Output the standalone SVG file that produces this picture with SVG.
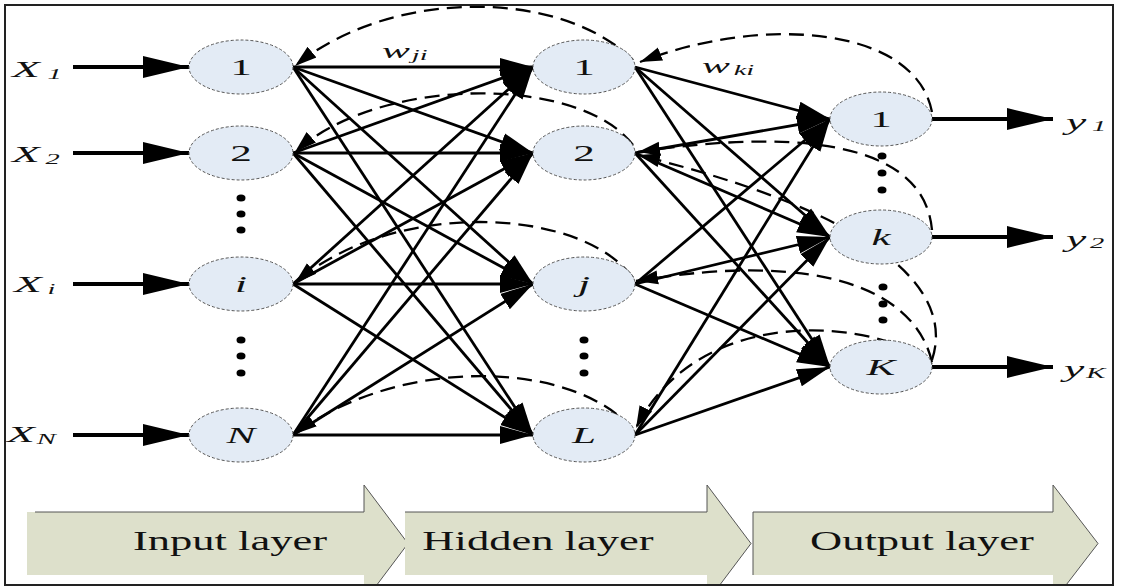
<svg xmlns="http://www.w3.org/2000/svg" width="1121" height="588" viewBox="0 0 1121 588">
<style>
.node{fill:#e3ebf5;stroke:#555;stroke-width:1;stroke-dasharray:3 2}
.lbl{font-family:"Liberation Serif","Times New Roman",serif;font-size:24px;fill:#111}
.it{font-style:italic}
.conn{stroke:#000;stroke-width:2.8;fill:none;marker-end:url(#ah)}
.io{stroke:#000;stroke-width:4;fill:none;marker-end:url(#ahBig)}
.dash{stroke:#000;stroke-width:2.3;fill:none;stroke-dasharray:15 8;marker-end:url(#ahD)}
.band{fill:#dde0cb}
.bandline{fill:none;stroke:#555;stroke-width:1}
.ltxt{font-family:"Liberation Serif","Times New Roman",serif;font-size:27px;fill:#111}
</style>
<defs>
<marker id="ah" markerUnits="userSpaceOnUse" markerWidth="34" markerHeight="20" refX="33" refY="10" orient="auto"><path d="M0,1 L33,10 L0,19 z" fill="#000"/></marker>
<marker id="ahBig" markerUnits="userSpaceOnUse" markerWidth="48" markerHeight="24" refX="46" refY="12" orient="auto"><path d="M0,1 L46,12 L0,23 z" fill="#000"/></marker>
<marker id="ahD" markerUnits="userSpaceOnUse" markerWidth="24" markerHeight="16" refX="22" refY="8" orient="auto"><path d="M0,1 L22,8 L0,15 z" fill="#000"/></marker>
<clipPath id="frameClip"><rect x="6" y="6" width="1106" height="578"/></clipPath>
</defs>
<rect x="0" y="0" width="1121" height="588" fill="#fff"/>

<g id="layer-bands" clip-path="url(#frameClip)">
  <g id="band-input">
    <polygon class="band" points="27,512 364,512 364,485 408,543.5 364,602 364,575 27,575"/>
    <polyline class="bandline" points="35,512 364,512 364,485 408,543.5 364,602"/>
  </g>
  <g id="band-hidden">
    <polygon class="band" points="405,512 707,512 707,485 751,543.5 707,602 707,575 405,575"/>
    <polyline class="bandline" points="405,512 707,512 707,485 751,543.5 707,602"/>
  </g>
  <g id="band-output">
    <polygon class="band" points="753,512 1053,512 1053,485 1098,543.5 1053,602 1053,575 753,575"/>
    <polyline class="bandline" points="753,575 753,512 1053,512 1053,485 1098,543.5 1053,602"/>
  </g>
  <text class="ltxt" text-anchor="middle" transform="translate(230,550) scale(1.65,1)">Input layer</text>
  <text class="ltxt" text-anchor="middle" transform="translate(538,550) scale(1.65,1)">Hidden layer</text>
  <text class="ltxt" text-anchor="middle" transform="translate(922,550) scale(1.65,1)">Output layer</text>
</g>

<g id="connectors">
  <line class="io" x1="73" y1="67" x2="189" y2="67"/>
  <line class="io" x1="73" y1="153" x2="189" y2="153"/>
  <line class="io" x1="73" y1="284" x2="189" y2="284"/>
  <line class="io" x1="73" y1="435" x2="189" y2="435"/>
  <line class="io" x1="932" y1="119" x2="1053" y2="119"/>
  <line class="io" x1="932" y1="237" x2="1053" y2="237"/>
  <line class="io" x1="932" y1="367" x2="1053" y2="367"/>
  <line class="conn" x1="293" y1="67" x2="533" y2="67"/>
  <line class="conn" x1="293" y1="67" x2="533" y2="153"/>
  <line class="conn" x1="293" y1="67" x2="533" y2="284"/>
  <line class="conn" x1="293" y1="67" x2="533" y2="435"/>
  <line class="conn" x1="293" y1="153" x2="533" y2="67"/>
  <line class="conn" x1="293" y1="153" x2="533" y2="153"/>
  <line class="conn" x1="293" y1="153" x2="533" y2="284"/>
  <line class="conn" x1="293" y1="153" x2="533" y2="435"/>
  <line class="conn" x1="293" y1="284" x2="533" y2="67"/>
  <line class="conn" x1="293" y1="284" x2="533" y2="153"/>
  <line class="conn" x1="293" y1="284" x2="533" y2="284"/>
  <line class="conn" x1="293" y1="284" x2="533" y2="435"/>
  <line class="conn" x1="293" y1="435" x2="533" y2="67"/>
  <line class="conn" x1="293" y1="435" x2="533" y2="153"/>
  <line class="conn" x1="293" y1="435" x2="533" y2="284"/>
  <line class="conn" x1="293" y1="435" x2="533" y2="435"/>
  <line class="conn" x1="635" y1="67" x2="830" y2="119"/>
  <line class="conn" x1="635" y1="67" x2="830" y2="237"/>
  <line class="conn" x1="635" y1="67" x2="830" y2="367"/>
  <line class="conn" x1="635" y1="153" x2="830" y2="119"/>
  <line class="conn" x1="635" y1="153" x2="830" y2="237"/>
  <line class="conn" x1="635" y1="153" x2="830" y2="367"/>
  <line class="conn" x1="635" y1="284" x2="830" y2="119"/>
  <line class="conn" x1="635" y1="284" x2="830" y2="237"/>
  <line class="conn" x1="635" y1="284" x2="830" y2="367"/>
  <line class="conn" x1="635" y1="435" x2="830" y2="119"/>
  <line class="conn" x1="635" y1="435" x2="830" y2="237"/>
  <line class="conn" x1="635" y1="435" x2="830" y2="367"/>
  <path class="dash" d="M633,60 C560,-12 390,-12 295,66"/>
  <path class="dash" d="M633,145 C580,75 380,75 295,152"/>
  <path class="dash" d="M633,278 C580,205 390,200 295,283"/>
  <path class="dash" d="M633,430 C575,360 400,355 295,434"/>
  <path class="dash" d="M932,112 C915,25 760,15 640,62"/>
  <path class="dash" d="M932,230 C925,150 820,125 638,152"/>
  <path class="dash" d="M932,360 C955,290 880,215 638,155"/>
  <path class="dash" d="M932,362 C915,290 820,250 636,281"/>
  <path class="dash" d="M932,364 C880,320 700,300 636,428"/>
</g>

<g id="input-nodes">
  <g id="in-1"><ellipse class="node" cx="241" cy="67" rx="52" ry="27"/><text class="lbl" text-anchor="middle" transform="translate(241,75) scale(1.8,1)">1</text></g>
  <g id="in-2"><ellipse class="node" cx="241" cy="153" rx="52" ry="27"/><text class="lbl" text-anchor="middle" transform="translate(241,161) scale(1.8,1)">2</text></g>
  <g id="in-i"><ellipse class="node" cx="241" cy="284" rx="52" ry="27"/><text class="lbl it" text-anchor="middle" transform="translate(241,292) scale(1.8,1)">i</text></g>
  <g id="in-N"><ellipse class="node" cx="241" cy="435" rx="52" ry="27"/><text class="lbl it" text-anchor="middle" transform="translate(241,443) scale(1.8,1)">N</text></g>
</g>
<g id="hidden-nodes">
  <g id="hid-1"><ellipse class="node" cx="584" cy="67" rx="51" ry="27"/><text class="lbl" text-anchor="middle" transform="translate(584,75) scale(1.8,1)">1</text></g>
  <g id="hid-2"><ellipse class="node" cx="584" cy="153" rx="51" ry="27"/><text class="lbl" text-anchor="middle" transform="translate(584,161) scale(1.8,1)">2</text></g>
  <g id="hid-j"><ellipse class="node" cx="584" cy="284" rx="51" ry="27"/><text class="lbl it" text-anchor="middle" transform="translate(584,292) scale(1.8,1)">j</text></g>
  <g id="hid-L"><ellipse class="node" cx="584" cy="435" rx="51" ry="27"/><text class="lbl it" text-anchor="middle" transform="translate(584,443) scale(1.8,1)">L</text></g>
</g>
<g id="output-nodes">
  <g id="out-1"><ellipse class="node" cx="881" cy="119" rx="51" ry="27"/><text class="lbl" text-anchor="middle" transform="translate(881,127) scale(1.8,1)">1</text></g>
  <g id="out-k"><ellipse class="node" cx="881" cy="237" rx="51" ry="27"/><text class="lbl it" text-anchor="middle" transform="translate(881,245) scale(1.8,1)">k</text></g>
  <g id="out-K"><ellipse class="node" cx="881" cy="367" rx="51" ry="27"/><text class="lbl it" text-anchor="middle" transform="translate(881,375) scale(1.8,1)">K</text></g>
</g>

<g id="ellipsis-dots" fill="#000">
  <ellipse cx="241" cy="198" rx="4.5" ry="3.5"/><ellipse cx="241" cy="214" rx="4.5" ry="3.5"/><ellipse cx="241" cy="230" rx="4.5" ry="3.5"/>
  <ellipse cx="241" cy="340" rx="4.5" ry="3.5"/><ellipse cx="241" cy="356" rx="4.5" ry="3.5"/><ellipse cx="241" cy="373" rx="4.5" ry="3.5"/>
  <ellipse cx="584" cy="340" rx="4.5" ry="3.5"/><ellipse cx="584" cy="356" rx="4.5" ry="3.5"/><ellipse cx="584" cy="373" rx="4.5" ry="3.5"/>
  <ellipse cx="882" cy="156" rx="4.5" ry="3.5"/><ellipse cx="882" cy="173" rx="4.5" ry="3.5"/><ellipse cx="882" cy="190" rx="4.5" ry="3.5"/>
  <ellipse cx="883" cy="287" rx="4.5" ry="3.5"/><ellipse cx="883" cy="304" rx="4.5" ry="3.5"/><ellipse cx="883" cy="320" rx="4.5" ry="3.5"/>
</g>

<g id="labels" class="lbl it">
  <text transform="translate(12,77) scale(1.9,1)">X<tspan font-size="15" dx="4" dy="2">1</tspan></text>
  <text transform="translate(12,162) scale(1.9,1)">X<tspan font-size="15" dx="3" dy="2">2</tspan></text>
  <text transform="translate(14,292) scale(1.9,1)">X<tspan font-size="15" dx="3" dy="2">i</tspan></text>
  <text transform="translate(7,442) scale(1.9,1)">X<tspan font-size="15" dx="1" dy="2">N</tspan></text>
  <text transform="translate(1066,130) scale(1.9,1)">y<tspan font-size="15" dx="3" dy="1">1</tspan></text>
  <text transform="translate(1066,247) scale(1.9,1)">y<tspan font-size="15" dx="2" dy="1">2</tspan></text>
  <text transform="translate(1064,377) scale(1.9,1)">y<tspan font-size="15" dx="1" dy="1">K</tspan></text>
  <text transform="translate(382,58) scale(1.9,1)" font-size="22">w<tspan font-size="15" dx="1" dy="2">ji</tspan></text>
  <text transform="translate(702,73) scale(1.9,1)" font-size="22">w<tspan font-size="15" dx="2" dy="2">ki</tspan></text>
</g>

<rect id="frame" x="5" y="5" width="1108" height="580" fill="none" stroke="#222" stroke-width="2"/>
</svg>
